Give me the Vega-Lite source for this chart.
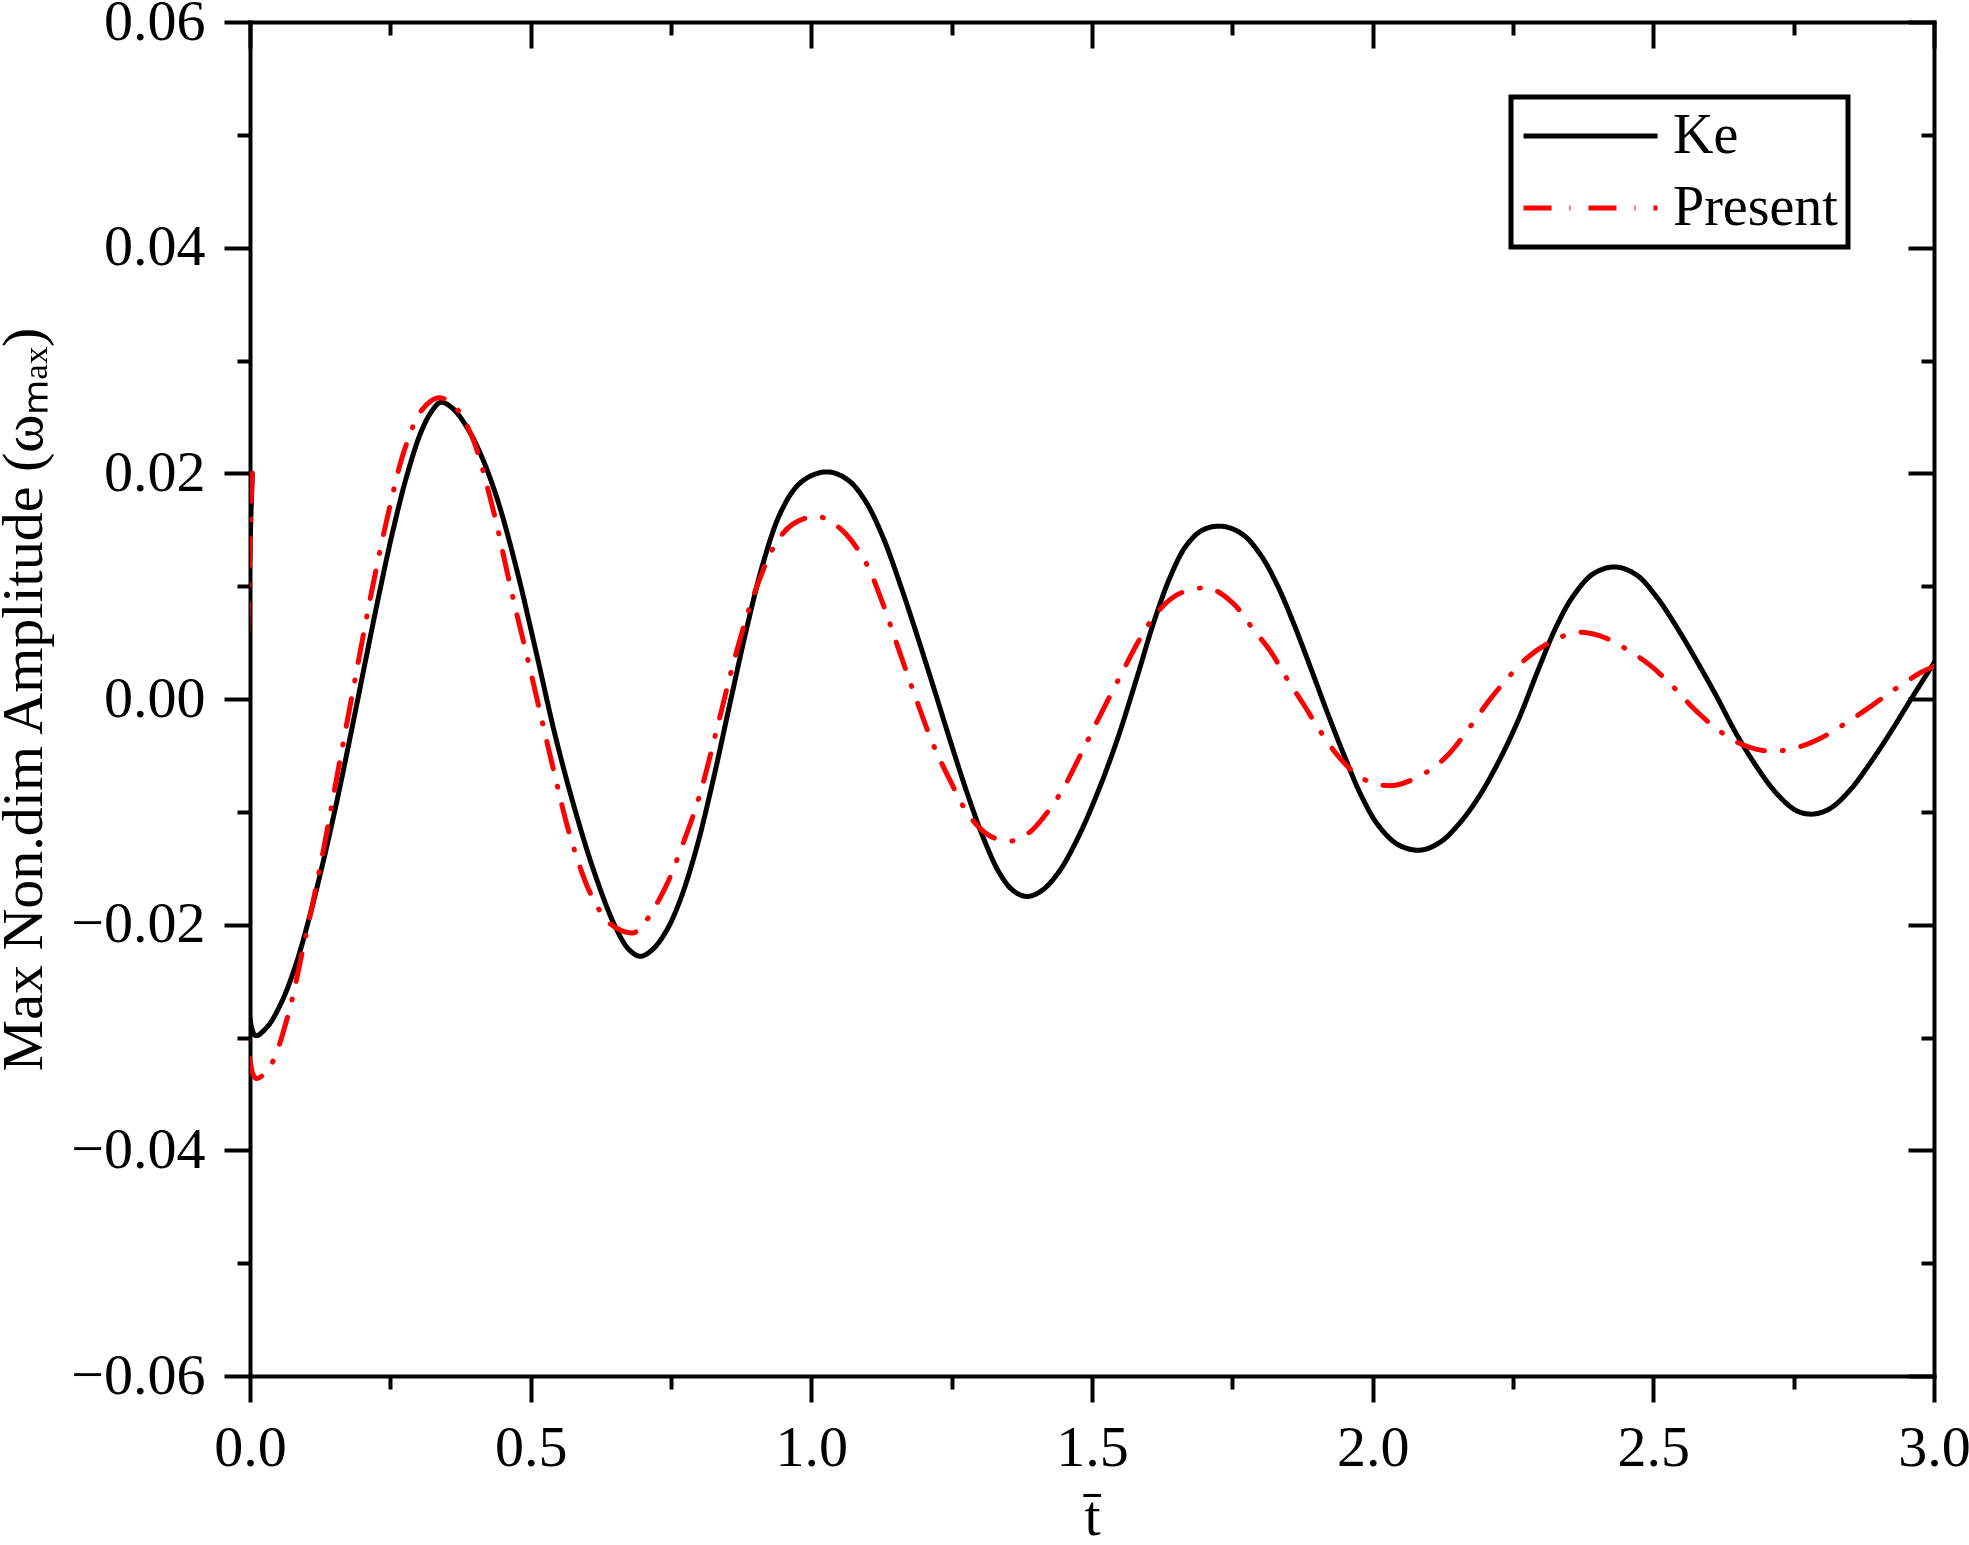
{
  "$schema": "https://vega.github.io/schema/vega-lite/v6.json",
  "width": 1684,
  "height": 1354,
  "autosize": {"type": "none"},
  "padding": {"left": 250, "top": 22, "right": 35, "bottom": 169},
  "background": "white",
  "config": {
    "view": {"stroke": null},
    "axis": {
      "grid": false,
      "labelFont": "Liberation Serif",
      "labelFontSize": 58,
      "labelColor": "black",
      "titleFont": "Liberation Serif",
      "titleFontSize": 58,
      "titleFontWeight": "normal",
      "titleColor": "black",
      "tickColor": "black",
      "tickWidth": 4,
      "domainColor": "black",
      "domainWidth": 4,
      "domainCap": "square",
      "labelFlush": false,
      "labelOverlap": false
    },
    "legend": {"strokeWidth": 5}
  },
  "data": {
    "values": [
      {"s":"Ke","t":0.004,"v":0.0200},{"s":"Ke","t":0.009,"v":-0.0298},{"s":"Ke","t":0.030,"v":-0.0291},{"s":"Ke","t":0.055,"v":-0.0270},{"s":"Ke","t":0.080,"v":-0.0238},{"s":"Ke","t":0.105,"v":-0.0195},{"s":"Ke","t":0.130,"v":-0.0145},{"s":"Ke","t":0.155,"v":-0.0090},{"s":"Ke","t":0.180,"v":-0.0030},{"s":"Ke","t":0.205,"v":0.0032},{"s":"Ke","t":0.230,"v":0.0093},{"s":"Ke","t":0.255,"v":0.0150},{"s":"Ke","t":0.280,"v":0.0199},{"s":"Ke","t":0.305,"v":0.0237},{"s":"Ke","t":0.325,"v":0.0256},{"s":"Ke","t":0.340,"v":0.0263},{"s":"Ke","t":0.360,"v":0.0258},{"s":"Ke","t":0.385,"v":0.0242},{"s":"Ke","t":0.410,"v":0.0218},{"s":"Ke","t":0.440,"v":0.0178},{"s":"Ke","t":0.475,"v":0.0115},{"s":"Ke","t":0.510,"v":0.0041},{"s":"Ke","t":0.545,"v":-0.0035},{"s":"Ke","t":0.580,"v":-0.0100},{"s":"Ke","t":0.615,"v":-0.0156},{"s":"Ke","t":0.650,"v":-0.0201},{"s":"Ke","t":0.675,"v":-0.0222},{"s":"Ke","t":0.695,"v":-0.0228},{"s":"Ke","t":0.715,"v":-0.0223},{"s":"Ke","t":0.740,"v":-0.0207},{"s":"Ke","t":0.765,"v":-0.0180},{"s":"Ke","t":0.795,"v":-0.0133},{"s":"Ke","t":0.825,"v":-0.0072},{"s":"Ke","t":0.855,"v":-0.0004},{"s":"Ke","t":0.885,"v":0.0063},{"s":"Ke","t":0.915,"v":0.0122},{"s":"Ke","t":0.945,"v":0.0165},{"s":"Ke","t":0.975,"v":0.0189},{"s":"Ke","t":1.005,"v":0.0199},{"s":"Ke","t":1.035,"v":0.0201},{"s":"Ke","t":1.068,"v":0.0193},{"s":"Ke","t":1.098,"v":0.0174},{"s":"Ke","t":1.128,"v":0.0143},{"s":"Ke","t":1.158,"v":0.0102},{"s":"Ke","t":1.188,"v":0.0057},{"s":"Ke","t":1.218,"v":0.0010},{"s":"Ke","t":1.248,"v":-0.0038},{"s":"Ke","t":1.278,"v":-0.0084},{"s":"Ke","t":1.308,"v":-0.0125},{"s":"Ke","t":1.336,"v":-0.0155},{"s":"Ke","t":1.360,"v":-0.0170},{"s":"Ke","t":1.384,"v":-0.0175},{"s":"Ke","t":1.410,"v":-0.0170},{"s":"Ke","t":1.440,"v":-0.0154},{"s":"Ke","t":1.475,"v":-0.0123},{"s":"Ke","t":1.510,"v":-0.0083},{"s":"Ke","t":1.545,"v":-0.0036},{"s":"Ke","t":1.580,"v":0.0019},{"s":"Ke","t":1.610,"v":0.0068},{"s":"Ke","t":1.640,"v":0.0109},{"s":"Ke","t":1.668,"v":0.0136},{"s":"Ke","t":1.698,"v":0.0150},{"s":"Ke","t":1.733,"v":0.0153},{"s":"Ke","t":1.768,"v":0.0146},{"s":"Ke","t":1.800,"v":0.0128},{"s":"Ke","t":1.830,"v":0.0101},{"s":"Ke","t":1.860,"v":0.0066},{"s":"Ke","t":1.890,"v":0.0027},{"s":"Ke","t":1.920,"v":-0.0013},{"s":"Ke","t":1.950,"v":-0.0051},{"s":"Ke","t":1.980,"v":-0.0086},{"s":"Ke","t":2.010,"v":-0.0112},{"s":"Ke","t":2.045,"v":-0.0129},{"s":"Ke","t":2.084,"v":-0.0134},{"s":"Ke","t":2.120,"v":-0.0127},{"s":"Ke","t":2.155,"v":-0.0110},{"s":"Ke","t":2.190,"v":-0.0086},{"s":"Ke","t":2.225,"v":-0.0055},{"s":"Ke","t":2.260,"v":-0.0018},{"s":"Ke","t":2.295,"v":0.0026},{"s":"Ke","t":2.327,"v":0.0064},{"s":"Ke","t":2.357,"v":0.0091},{"s":"Ke","t":2.393,"v":0.0111},{"s":"Ke","t":2.432,"v":0.0117},{"s":"Ke","t":2.470,"v":0.0110},{"s":"Ke","t":2.505,"v":0.0091},{"s":"Ke","t":2.540,"v":0.0065},{"s":"Ke","t":2.577,"v":0.0034},{"s":"Ke","t":2.613,"v":0.0002},{"s":"Ke","t":2.648,"v":-0.0031},{"s":"Ke","t":2.684,"v":-0.0060},{"s":"Ke","t":2.720,"v":-0.0084},{"s":"Ke","t":2.755,"v":-0.0099},{"s":"Ke","t":2.784,"v":-0.0102},{"s":"Ke","t":2.815,"v":-0.0097},{"s":"Ke","t":2.850,"v":-0.0081},{"s":"Ke","t":2.886,"v":-0.0057},{"s":"Ke","t":2.922,"v":-0.0030},{"s":"Ke","t":2.958,"v":-0.0001},{"s":"Ke","t":3.000,"v":0.0032},
      {"s":"Present","t":0.004,"v":0.0200},{"s":"Present","t":0.010,"v":-0.0336},{"s":"Present","t":0.035,"v":-0.0326},{"s":"Present","t":0.064,"v":-0.0287},{"s":"Present","t":0.098,"v":-0.0213},{"s":"Present","t":0.128,"v":-0.0141},{"s":"Present","t":0.157,"v":-0.0063},{"s":"Present","t":0.187,"v":0.0017},{"s":"Present","t":0.217,"v":0.0096},{"s":"Present","t":0.247,"v":0.0166},{"s":"Present","t":0.276,"v":0.0222},{"s":"Present","t":0.306,"v":0.0256},{"s":"Present","t":0.336,"v":0.0267},{"s":"Present","t":0.365,"v":0.0259},{"s":"Present","t":0.395,"v":0.0233},{"s":"Present","t":0.431,"v":0.0172},{"s":"Present","t":0.466,"v":0.0095},{"s":"Present","t":0.502,"v":0.0020},{"s":"Present","t":0.538,"v":-0.0057},{"s":"Present","t":0.573,"v":-0.0126},{"s":"Present","t":0.609,"v":-0.0175},{"s":"Present","t":0.639,"v":-0.0198},{"s":"Present","t":0.665,"v":-0.0206},{"s":"Present","t":0.685,"v":-0.0207},{"s":"Present","t":0.705,"v":-0.0197},{"s":"Present","t":0.740,"v":-0.0167},{"s":"Present","t":0.770,"v":-0.0130},{"s":"Present","t":0.800,"v":-0.0087},{"s":"Present","t":0.836,"v":-0.0018},{"s":"Present","t":0.865,"v":0.0039},{"s":"Present","t":0.901,"v":0.0097},{"s":"Present","t":0.937,"v":0.0138},{"s":"Present","t":0.967,"v":0.0155},{"s":"Present","t":1.008,"v":0.0162},{"s":"Present","t":1.032,"v":0.0158},{"s":"Present","t":1.062,"v":0.0146},{"s":"Present","t":1.097,"v":0.0121},{"s":"Present","t":1.127,"v":0.0085},{"s":"Present","t":1.157,"v":0.0042},{"s":"Present","t":1.186,"v":0.0001},{"s":"Present","t":1.216,"v":-0.0039},{"s":"Present","t":1.246,"v":-0.0071},{"s":"Present","t":1.282,"v":-0.0104},{"s":"Present","t":1.317,"v":-0.0121},{"s":"Present","t":1.355,"v":-0.0126},{"s":"Present","t":1.389,"v":-0.0118},{"s":"Present","t":1.418,"v":-0.0102},{"s":"Present","t":1.448,"v":-0.0080},{"s":"Present","t":1.478,"v":-0.0051},{"s":"Present","t":1.513,"v":-0.0016},{"s":"Present","t":1.549,"v":0.0019},{"s":"Present","t":1.585,"v":0.0053},{"s":"Present","t":1.615,"v":0.0076},{"s":"Present","t":1.644,"v":0.0090},{"s":"Present","t":1.670,"v":0.0096},{"s":"Present","t":1.710,"v":0.0098},{"s":"Present","t":1.751,"v":0.0085},{"s":"Present","t":1.787,"v":0.0062},{"s":"Present","t":1.817,"v":0.0043},{"s":"Present","t":1.846,"v":0.0019},{"s":"Present","t":1.876,"v":-0.0004},{"s":"Present","t":1.906,"v":-0.0028},{"s":"Present","t":1.941,"v":-0.0052},{"s":"Present","t":1.977,"v":-0.0069},{"s":"Present","t":2.013,"v":-0.0076},{"s":"Present","t":2.045,"v":-0.0076},{"s":"Present","t":2.102,"v":-0.0063},{"s":"Present","t":2.137,"v":-0.0048},{"s":"Present","t":2.173,"v":-0.0025},{"s":"Present","t":2.208,"v":-0.0001},{"s":"Present","t":2.238,"v":0.0017},{"s":"Present","t":2.274,"v":0.0036},{"s":"Present","t":2.315,"v":0.0050},{"s":"Present","t":2.363,"v":0.0059},{"s":"Present","t":2.405,"v":0.0056},{"s":"Present","t":2.446,"v":0.0046},{"s":"Present","t":2.494,"v":0.0030},{"s":"Present","t":2.535,"v":0.0011},{"s":"Present","t":2.571,"v":-0.0008},{"s":"Present","t":2.607,"v":-0.0024},{"s":"Present","t":2.648,"v":-0.0038},{"s":"Present","t":2.700,"v":-0.0046},{"s":"Present","t":2.749,"v":-0.0044},{"s":"Present","t":2.797,"v":-0.0035},{"s":"Present","t":2.844,"v":-0.0021},{"s":"Present","t":2.886,"v":-0.0007},{"s":"Present","t":2.928,"v":0.0008},{"s":"Present","t":2.975,"v":0.0023},{"s":"Present","t":3.000,"v":0.0029}
    ]
  },
  "layer": [
    {
      "mark": {"type": "line", "strokeWidth": 5, "interpolate": "catmull-rom", "strokeCap": "round", "strokeJoin": "round", "clip": true},
      "encoding": {
        "x": {"field": "t", "type": "quantitative", "scale": {"domain": [0, 3], "nice": false, "zero": false},
              "axis": {"orient": "bottom", "values": [0, 0.5, 1, 1.5, 2, 2.5, 3], "format": ".1f", "tickSize": 26, "labelPadding": 17, "title": "t\u0304", "titlePadding": 11}},
        "y": {"field": "v", "type": "quantitative", "scale": {"domain": [-0.06, 0.06], "nice": false, "zero": false},
              "axis": {"orient": "left", "values": [-0.06, -0.04, -0.02, 0, 0.02, 0.04, 0.06], "format": ".2f", "tickSize": 26, "labelPadding": 19, "titlePadding": 17,
                       "title": "Max Non.dim Amplitude (\u03c9\u2098\u2090\u2093)"}},
        "color": {"field": "s", "type": "nominal", "scale": {"domain": ["Ke", "Present"], "range": ["#000000", "#ff0000"]},
                  "legend": {"orient": "none", "legendX": 1261, "legendY": 75, "title": null, "strokeColor": "black", "padding": 10, "symbolType": "stroke", "symbolSize": 17956, "symbolStrokeWidth": 5, "labelFont": "Liberation Serif", "labelFontSize": 56, "labelColor": "black", "labelOffset": 13, "labelLimit": 0, "clipHeight": 58, "rowPadding": 14}},
        "strokeDash": {"field": "s", "type": "nominal", "scale": {"domain": ["Ke", "Present"], "range": [[1, 0], [28, 18, 1, 18]]},
                  "legend": {"orient": "none", "legendX": 1261, "legendY": 75, "title": null, "strokeColor": "black", "padding": 10, "symbolType": "stroke", "symbolSize": 17956, "symbolStrokeWidth": 5, "labelFont": "Liberation Serif", "labelFontSize": 56, "labelColor": "black", "labelOffset": 13, "labelLimit": 0, "clipHeight": 58, "rowPadding": 14}}
      }
    },
    {
      "mark": {"type": "line", "opacity": 0},
      "encoding": {
        "x": {"field": "t", "type": "quantitative", "axis": {"orient": "bottom", "values": [0.25, 0.75, 1.25, 1.75, 2.25, 2.75], "tickSize": 13, "labels": false, "domain": false, "title": null}},
        "y": {"field": "v", "type": "quantitative", "axis": {"orient": "left", "values": [-0.05, -0.03, -0.01, 0.01, 0.03, 0.05], "tickSize": 13, "labels": false, "domain": false, "title": null}}
      }
    },
    {
      "mark": {"type": "line", "opacity": 0},
      "encoding": {
        "x": {"field": "t", "type": "quantitative", "axis": {"orient": "top", "values": [0, 0.5, 1, 1.5, 2, 2.5, 3], "tickSize": -26, "labels": false, "title": null}},
        "y": {"field": "v", "type": "quantitative", "axis": {"orient": "right", "values": [-0.06, -0.04, -0.02, 0, 0.02, 0.04, 0.06], "tickSize": -26, "labels": false, "title": null}}
      }
    },
    {
      "mark": {"type": "line", "opacity": 0},
      "encoding": {
        "x": {"field": "t", "type": "quantitative", "axis": {"orient": "top", "values": [0.25, 0.75, 1.25, 1.75, 2.25, 2.75], "tickSize": -13, "labels": false, "domain": false, "title": null}},
        "y": {"field": "v", "type": "quantitative", "axis": {"orient": "right", "values": [-0.05, -0.03, -0.01, 0.01, 0.03, 0.05], "tickSize": -13, "labels": false, "domain": false, "title": null}}
      }
    }
  ],
  "resolve": {"axis": {"x": "independent", "y": "independent"}}
}
